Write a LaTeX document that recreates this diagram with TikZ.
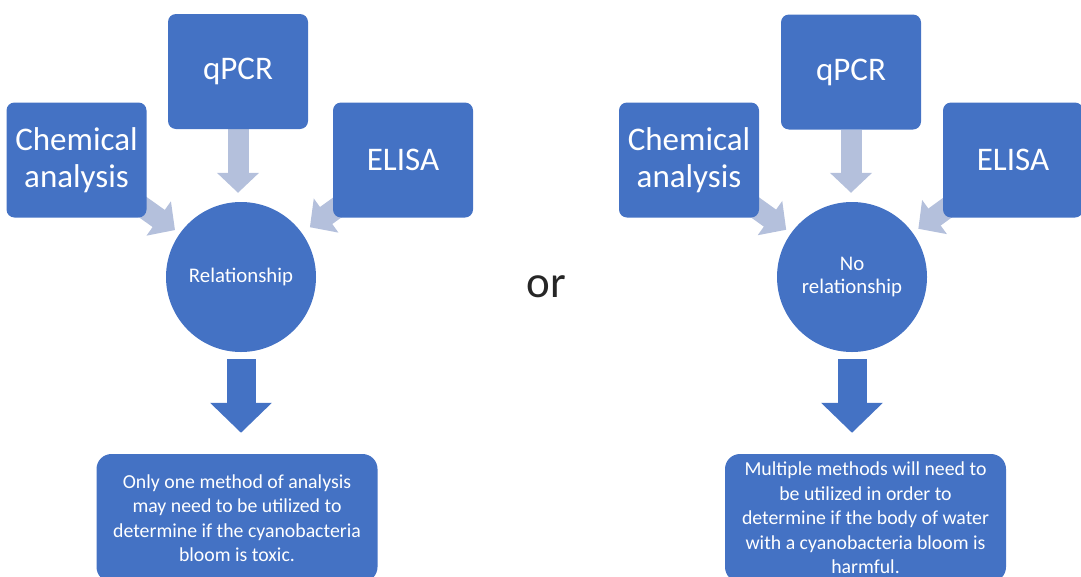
\documentclass[tikz,border=0pt]{standalone}
\usepackage{fontspec}
\setmainfont{Carlito}
\usetikzlibrary{arrows.meta, positioning, shapes.geometric}
\pgfdeclarelayer{bg}
\pgfsetlayers{bg,main}
\definecolor{boxblue}{HTML}{4472C4}
\definecolor{arrowgrey}{HTML}{B4C0DC}

\tikzset{
  method/.style={rectangle, rounded corners=8pt, fill=boxblue, text=white,
    minimum width=140pt, minimum height=115pt, align=center,
    font=\fontsize{33}{37}\selectfont},
  result/.style={circle, fill=boxblue, text=white, minimum size=150pt,
    align=center, font=\fontsize{20.8}{23}\selectfont},
  outcome/.style={rectangle, rounded corners=15pt, fill=boxblue, text=white,
    minimum width=281pt, minimum height=128pt, align=center,
    font=\fontsize{19.8}{24.5}\selectfont},
  feed/.style={draw=arrowgrey, line width=21pt, -{Triangle[width=41pt,length=20pt]}},
  lead/.style={draw=boxblue, line width=29pt, -{Triangle[width=60pt,length=30pt]}},
}

\begin{document}
\begin{tikzpicture}[x=1pt,y=-1pt]
  \clip (0,0) rectangle (1081,576);

  % left: relationship
  \node[method] (chemL) at (76.5,160) {Chemical\\analysis};
  \node[method] (qpcrL) at (238,71.5) {qPCR};
  \node[method] (elisaL) at (403,160) {ELISA};
  \node[result] (relL) at (241,277) {Relationship};
  \node[outcome] (outL) at (237,518) {Only one method of analysis\\may need to be utilized to\\determine if the cyanobacteria\\bloom is toxic.};

  % right: no relationship
  \node[method] (chemR) at (689,160) {Chemical\\analysis};
  \node[method] (qpcrR) at (851,72) {qPCR};
  \node[method] (elisaR) at (1013,160) {ELISA};
  \node[result] (relR) at (852,277) {No\\relationship};
  \node[outcome] (outR) at (865.5,518) {Multiple methods will need to\\be utilized in order to\\determine if the body of water\\with a cyanobacteria bloom is\\harmful.};

  \node[font=\fontsize{45}{50}\selectfont, text=black!85] (or) at (546,287) {or};

  \begin{pgfonlayer}{bg}
    \draw[feed, shorten >=9pt] (qpcrL) -- (qpcrL |- relL.north);
    \draw[feed, shorten >=81pt] (chemL.center) -- (relL.center);
    \draw[feed, shorten >=85pt] (elisaL.center) -- (relL.center);

    \draw[feed, shorten >=9pt] (qpcrR) -- (qpcrR |- relR.north);
    \draw[feed, shorten >=81pt] (chemR.center) -- (relR.center);
    \draw[feed, shorten >=82pt] (elisaR.center) -- (relR.center);
  \end{pgfonlayer}

  \draw[lead, shorten <=7pt, shorten >=21pt] (relL.south) -- (relL.south |- outL.north);
  \draw[lead, shorten <=7pt, shorten >=21pt] (relR.south) -- (relR.south |- outR.north);
\end{tikzpicture}
\end{document}
